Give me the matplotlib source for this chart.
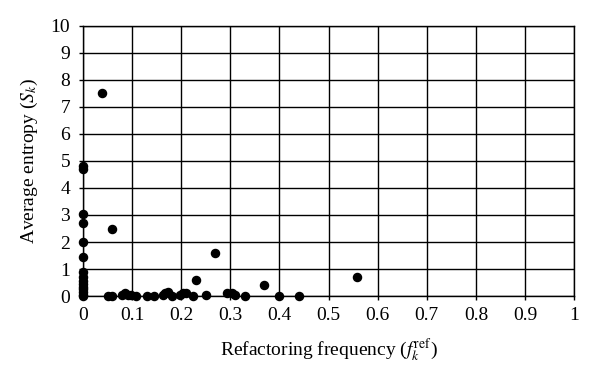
import matplotlib
matplotlib.use('Agg')
import matplotlib.pyplot as plt
import numpy as np

plt.rcParams['font.family'] = 'Liberation Serif'
plt.rcParams['mathtext.fontset'] = 'stix'

# points on the y axis (frequency 0)
x0 = [0, 0, 0, 0, 0, 0, 0, 0, 0, 0, 0, 0, 0, 0, 0]
y0 = [4.8, 4.7, 3.05, 2.7, 2.0, 1.45, 0.9, 0.7, 0.55, 0.45, 0.35, 0.25, 0.15, 0.05, 0.0]

# the rest
freq = [0.039, 0.06, 0.052, 0.06, 0.079, 0.086, 0.092, 0.099, 0.109, 0.13, 0.145,
        0.164, 0.168, 0.174, 0.181, 0.198, 0.204, 0.21, 0.225, 0.23, 0.25, 0.27,
        0.293, 0.303, 0.31, 0.33, 0.369, 0.40, 0.44, 0.559]
entropy = [7.5, 2.5, 0.0, 0.0, 0.05, 0.12, 0.05, 0.05, 0.0, 0.0, 0.0,
           0.05, 0.1, 0.15, 0.0, 0.05, 0.1, 0.1, 0.0, 0.6, 0.05, 1.6,
           0.1, 0.1, 0.05, 0.0, 0.4, 0.0, 0.0, 0.7]

fig = plt.figure(figsize=(6, 3.81), dpi=100)
ax = fig.add_axes([0.138, 0.223, 0.819, 0.709])

ax.scatter(x0 + freq, y0 + entropy, s=34, color='black', zorder=3, clip_on=False)

ax.set_xlim(0, 1)
ax.set_ylim(0, 10)
ax.set_xticks(np.arange(0, 1.01, 0.1))
ax.set_xticklabels(['0', '0.1', '0.2', '0.3', '0.4', '0.5', '0.6', '0.7', '0.8', '0.9', '1'])
ax.set_yticks(range(0, 11))
ax.grid(True, color='black', linewidth=1.0)
for s in ax.spines.values():
    s.set_linewidth(1.0)
    s.set_color('black')
ax.tick_params(direction='out', length=3, width=1, labelsize=14)
ax.tick_params(axis='x', pad=5)
ax.tick_params(axis='y', pad=6)
ax.set_xlabel('Refactoring frequency ($f_k^{\\mathrm{ref}}$)', fontsize=14, labelpad=9)
ax.set_ylabel('Average entropy ($S_k$)', fontsize=14, labelpad=8)

fig.savefig('out.png', dpi=100)
